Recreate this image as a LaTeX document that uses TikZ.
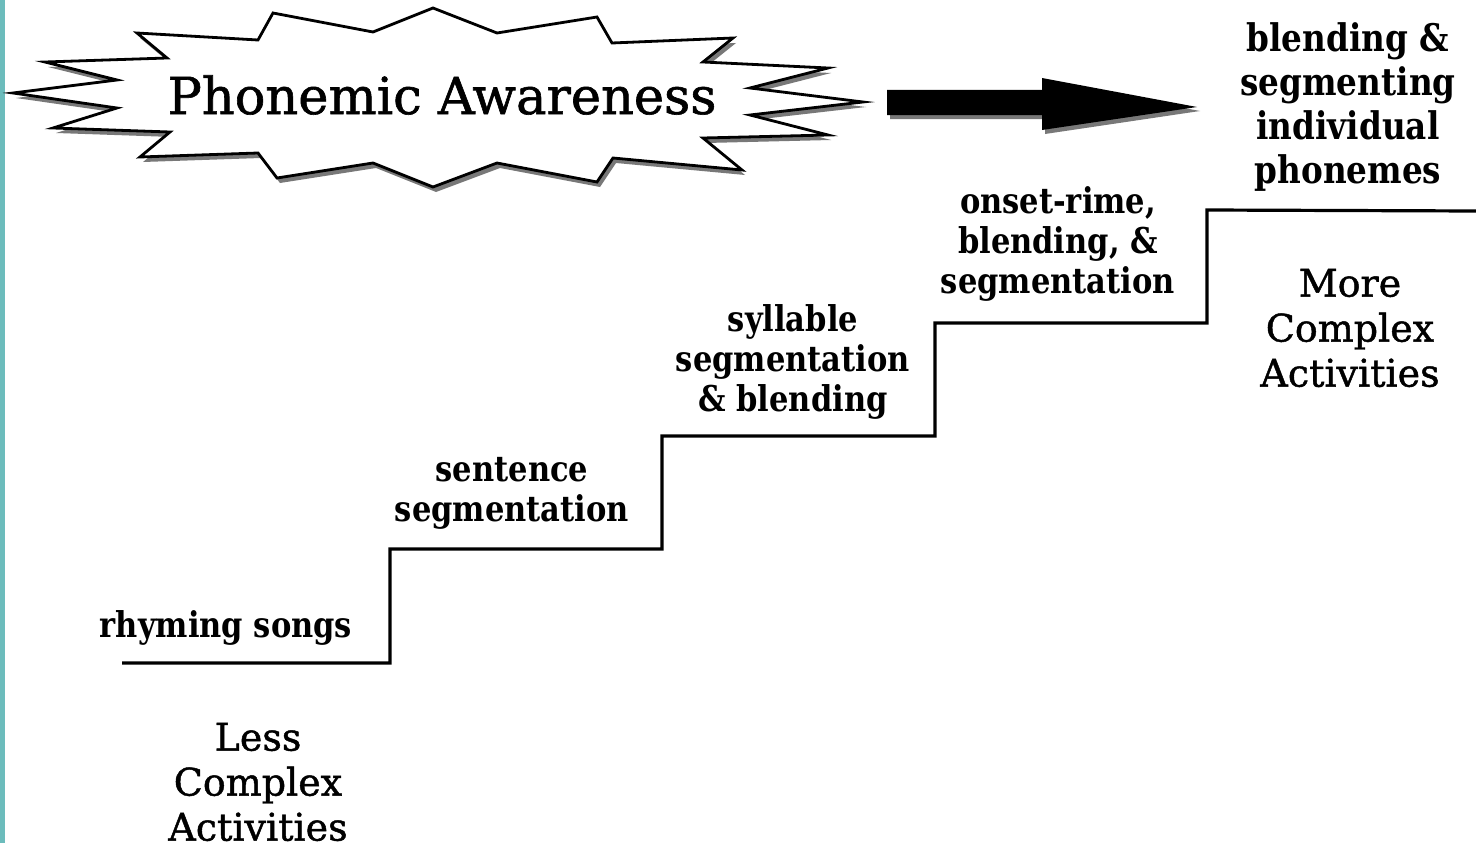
\documentclass[tikz,border=0pt]{standalone}
\usepackage{fontspec}
\newfontfamily\stepfont{DejaVu Serif Bold}[FakeStretch=0.86]
\newfontfamily\casfont{DejaVu Serif}[FakeBold=1.2]
\definecolor{stripteal}{RGB}{108,188,188}
\definecolor{shadowgray}{RGB}{120,120,120}
\tikzset{
  steptext/.style={inner sep=0pt, align=center, font=\stepfont\fontsize{35.5}{40}\selectfont},
  bigsteptext/.style={inner sep=0pt, align=center, font=\stepfont\fontsize{38}{44}\selectfont},
  castext/.style={inner sep=0pt, align=center, font=\casfont\fontsize{38}{45}\selectfont},
  stair/.style={line width=3.2pt, line join=miter},
  burst/.style={line width=2.8pt, line join=miter, fill=white},
}
\begin{document}
\begin{tikzpicture}[x=1pt,y=-1pt]
\useasboundingbox (0,0) rectangle (1476,843);
\fill[white] (0,0) rectangle (1476,843);
\fill[stripteal] (0,0) rectangle (5,843);

% starburst shadow
\fill[shadowgray, shift={(3,5)}]
 (137,33) -- (258,40) -- (273,13) -- (373,32) -- (433,8) -- (497,33) -- (597,17) -- (612,43)
 -- (733,38) -- (703,62) -- (828,68) -- (750,88) -- (863,102) -- (750,115) -- (828,135)
 -- (703,138) -- (742,170) -- (613,158) -- (597,182) -- (497,163) -- (433,187) -- (373,163)
 -- (277,178) -- (258,153) -- (140,157) -- (170,132) -- (53,128) -- (117,108) -- (13,93)
 -- (117,80) -- (45,62) -- (167,58) -- cycle;
% starburst
\draw[burst]
 (137,33) -- (258,40) -- (273,13) -- (373,32) -- (433,8) -- (497,33) -- (597,17) -- (612,43)
 -- (733,38) -- (703,62) -- (828,68) -- (750,88) -- (863,102) -- (750,115) -- (828,135)
 -- (703,138) -- (742,170) -- (613,158) -- (597,182) -- (497,163) -- (433,187) -- (373,163)
 -- (277,178) -- (258,153) -- (140,157) -- (170,132) -- (53,128) -- (117,108) -- (13,93)
 -- (117,80) -- (45,62) -- (167,58) -- cycle;
\node[inner sep=0pt, font=\casfont\fontsize{51}{55}\selectfont] (title) at (442,95) {Phonemic Awareness};

% big arrow with shadow
\fill[shadowgray, shift={(3,4)}] (887,90) -- (1042,90) -- (1042,78) -- (1197,107) -- (1042,130) -- (1042,115) -- (887,115) -- cycle;
\fill[black] (887,90) -- (1042,90) -- (1042,78) -- (1197,107) -- (1042,130) -- (1042,115) -- (887,115) -- cycle;

% staircase
\draw[stair] (122,663) -- (390,663) -- (390,549) -- (662,549) -- (662,436) -- (935,436)
  -- (935,323) -- (1207,323) -- (1207,210) -- (1476,211);

% labels
\node[steptext] (rhyme) at (226,628) {rhyming songs};
\node[steptext] (sent) at (512,493) {sentence\\segmentation};
\node[steptext] (syll) at (793,362) {syllable\\segmentation\\\& blending};
\node[steptext] (onset) at (1058,244) {onset-rime,\\blending, \&\\segmentation};
\node[bigsteptext] (phon) at (1348,107) {blending \&\\segmenting\\individual\\phonemes};
\node[castext] (more) at (1350,328) {More\\Complex\\Activities};
\node[castext] (less) at (258,782) {Less\\Complex\\Activities};
\end{tikzpicture}
\end{document}
